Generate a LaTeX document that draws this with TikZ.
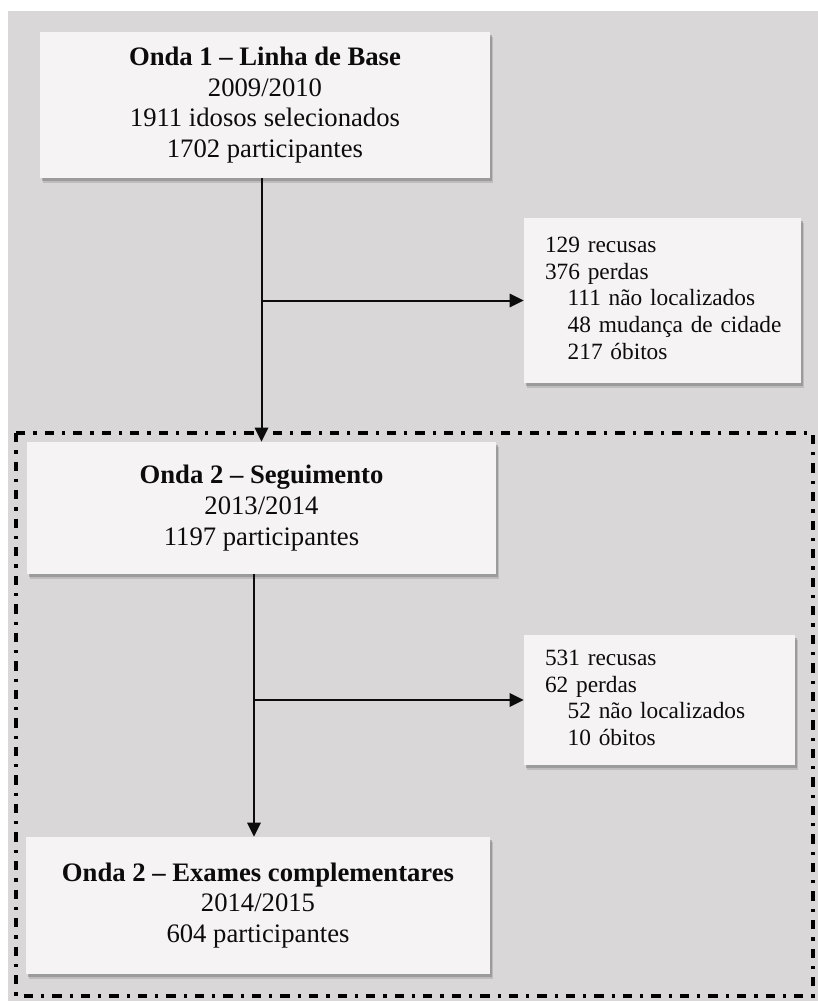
\documentclass[tikz,border=0pt]{standalone}
\usepackage{fontspec}
\setmainfont{Liberation Serif}
\usetikzlibrary{arrows.meta,shadows}

\definecolor{bggray}{RGB}{217,215,215}
\definecolor{boxfill}{RGB}{245,243,243}
\definecolor{ink}{RGB}{12,12,12}

\tikzset{
  softshadow/.style={
    drop shadow={shadow xshift=2pt,shadow yshift=-3.8pt,fill=black!45,opacity=.35},
    drop shadow={shadow xshift=1.2pt,shadow yshift=-2.4pt,fill=black!55,opacity=.45}},
  wavebox/.style={rectangle, fill=boxfill, softshadow, inner sep=0pt,
    align=center, text=ink, font=\fontsize{20}{23}\selectfont},
  lossbox/.style={rectangle, fill=boxfill, softshadow, inner sep=0pt,
    align=left, text=ink, font=\fontsize{17.5}{20}\selectfont},
  flow/.style={draw=ink, line width=1.5pt, -{Triangle[length=10.5pt,width=10pt]}},
  frame/.style={draw=black, line width=2.7pt,
    dash pattern=on 7pt off 6pt on 2.4pt off 6pt}
}
% loss lists: left inset inside the box, sub-items indented
\newenvironment{losslist}{\noindent\begin{tabular}{@{\hspace{15.75pt}}l@{}}}{\end{tabular}}
\newcommand{\sub}{\hspace*{17pt}}

\begin{document}
\begin{tikzpicture}[x=0.75pt,y=-0.75pt]
  % page and grey panel
  \useasboundingbox (0,0) rectangle (818,1001);
  \fill[white] (0,0) rectangle (818,1001);
  \fill[bggray] (8,11) rectangle (818,1001);

  % dash-dotted frame around the second wave
  \draw[frame] (16,433) rectangle (813,996);

  % wave boxes
  \node[wavebox, minimum width=337.5pt, minimum height=109.5pt] (b1) at (265,105)
    {\textbf{Onda 1 – Linha de Base}\\2009/2010\\1911 idosos selecionados\\1702 participantes};
  \node[wavebox, minimum width=351.75pt, minimum height=99pt] (b2) at (261.5,508)
    {\textbf{Onda 2 – Seguimento}\\2013/2014\\1197 participantes};
  \node[wavebox, minimum width=348pt, minimum height=102.75pt] (b3) at (258,905.5)
    {\textbf{Onda 2 – Exames complementares}\\2014/2015\\604 participantes};

  % loss boxes
  \node[lossbox, text width=207.75pt, minimum height=123.75pt] (s1) at (662.5,300.5)
    {\begin{losslist}
       129 recusas\\376 perdas\\\sub 111 não localizados\\\sub 48 mudança de cidade\\\sub 217 óbitos
     \end{losslist}};
  \node[lossbox, text width=203.25pt, minimum height=97.5pt] (s2) at (659.5,700)
    {\begin{losslist}
       531 recusas\\62 perdas\\\sub 52 não localizados\\\sub 10 óbitos
     \end{losslist}};

  % connectors
  \coordinate (spine2) at (254,0);
  \draw[flow] (b2.north |- b1.south) -- (b2.north);
  \draw[flow] (s1.west -| b2.north) -- (s1.west);
  \draw[flow] (b2.south -| spine2) -- (b3.north -| spine2);
  \draw[flow] (s2.west -| spine2) -- (s2.west);
\end{tikzpicture}
\end{document}
